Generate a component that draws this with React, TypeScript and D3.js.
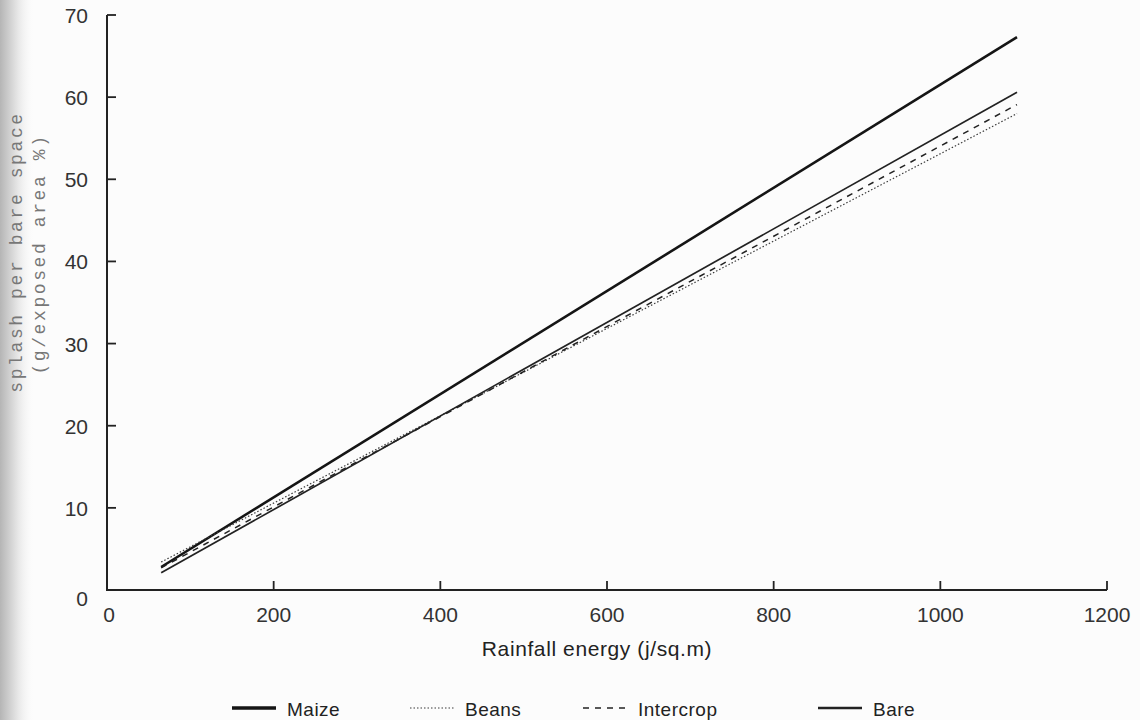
import React from "react";
import * as d3 from "d3";

const energy = [65, 1092];
const maize = [2.8, 67.3];
const beans = [3.4, 58.0];
const intercrop = [2.7, 59.1];
const bare = [2.1, 60.6];

const xTicks = [0, 200, 400, 600, 800, 1000, 1200];
const yTicks = [0, 10, 20, 30, 40, 50, 60, 70];

const seriesNames = ["Maize", "Beans", "Intercrop", "Bare"];

const W = 1140;
const H = 720;

export default function App() {
  const x = d3.scaleLinear().domain([0, 1200]).range([107, 1107]);
  const y = d3.scaleLinear().domain([0, 70]).range([590, 15]);

  const styles: Record<string, { w: number; dash?: string; c: string }> = {
    Maize: { w: 2.6, c: "#151515" },
    Beans: { w: 1.2, dash: "1.5 2", c: "#3a3a3a" },
    Intercrop: { w: 1.5, dash: "6 6", c: "#222" },
    Bare: { w: 1.7, c: "#222" },
  };
  const values: Record<string, number[]> = {
    Maize: maize,
    Beans: beans,
    Intercrop: intercrop,
    Bare: bare,
  };

  const line = d3
    .line<[number, number]>()
    .x((d) => x(d[0]))
    .y((d) => y(d[1]));

  const tickFont = "'Liberation Sans', Arial, sans-serif";
  const legendX = [232, 410, 583, 818];

  return (
    <svg
      width={W}
      height={H}
      style={{ position: "absolute", left: 0, top: 0, background: "#fff" }}
    >
      <defs>
        <linearGradient id="edge" x1="0" x2="1" y1="0" y2="0">
          <stop offset="0" stopColor="#b5b5b5" />
          <stop offset="0.45" stopColor="#e2e2e2" />
          <stop offset="1" stopColor="#ffffff" stopOpacity="0" />
        </linearGradient>
      </defs>
      <rect x={0} y={0} width={W} height={H} fill="#fcfcfc" />
      <rect x={0} y={0} width={36} height={H} fill="url(#edge)" />

      {/* axes */}
      <path
        d={`M${x(0)},${y(70)} V${y(0)} H${x(1200)}`}
        fill="none"
        stroke="#222"
        strokeWidth={2}
      />
      {yTicks.map((t) => (
        <g key={"y" + t}>
          <line x1={x(0)} x2={x(0) + 9} y1={y(t)} y2={y(t)} stroke="#222" strokeWidth={1.8} />
          <text
            x={x(0) - 19}
            y={y(t) + (t === 0 ? 16 : 8)}
            textAnchor="end"
            fontFamily={tickFont}
            fontSize={21}
            fill="#333"
          >
            {t}
          </text>
        </g>
      ))}
      {xTicks.map((t) => (
        <g key={"x" + t}>
          <line x1={x(t)} x2={x(t)} y1={y(0)} y2={y(0) - 9} stroke="#222" strokeWidth={1.8} />
          <text
            x={x(t) + (t === 0 ? 2 : 0)}
            y={y(0) + 32}
            textAnchor="middle"
            fontFamily={tickFont}
            fontSize={21}
            fill="#333"
          >
            {t}
          </text>
        </g>
      ))}

      {/* axis titles */}
      <text
        x={597}
        y={656}
        textAnchor="middle"
        fontFamily={tickFont}
        fontSize={21}
        letterSpacing={0.6}
        fill="#222"
      >
        Rainfall energy (j/sq.m)
      </text>
      <g transform="translate(22,252) rotate(-90)">
        <text
          textAnchor="middle"
          fontFamily="'Liberation Mono', 'DejaVu Sans Mono', monospace"
          fontSize={18}
          letterSpacing={2.6}
          fill="#777"
        >
          splash per bare space
        </text>
      </g>
      <g transform="translate(45,254) rotate(-90)">
        <text
          textAnchor="middle"
          fontFamily="'Liberation Mono', 'DejaVu Sans Mono', monospace"
          fontSize={18}
          letterSpacing={2.6}
          fill="#777"
        >
          (g/exposed area %)
        </text>
      </g>

      {/* series */}
      {seriesNames.map((n) => {
        const pts: [number, number][] = energy.map((e, i) => [e, values[n][i]]);
        const s = styles[n];
        return (
          <path
            key={n}
            d={line(pts) || ""}
            fill="none"
            stroke={s.c}
            strokeWidth={s.w}
            strokeDasharray={s.dash}
          />
        );
      })}

      {/* legend */}
      {seriesNames.map((n, i) => {
        const s = styles[n];
        const lx = legendX[i];
        return (
          <g key={"lg" + n}>
            <line
              x1={lx}
              x2={lx + 44}
              y1={708}
              y2={708}
              stroke={s.c}
              strokeWidth={n === "Maize" ? 3.5 : n === "Bare" ? 2.5 : s.w}
              strokeDasharray={s.dash}
            />
            <text
              x={lx + 55}
              y={716}
              fontFamily={tickFont}
              fontSize={19}
              letterSpacing={0.5}
              fill="#222"
            >
              {n}
            </text>
          </g>
        );
      })}
    </svg>
  );
}
